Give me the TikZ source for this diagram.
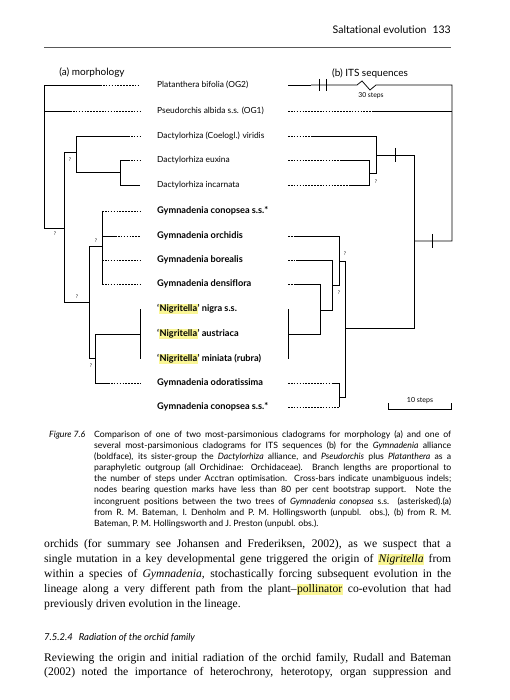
\documentclass[tikz,border=0pt]{standalone}
\usepackage{fontspec}
\setmainfont{Liberation Serif}
\newfontfamily\gill[Ligatures=NoCommon]{Lato}
\definecolor{hlyellow}{RGB}{250,246,150}
\newcommand{\hl}[1]{{\setlength{\fboxsep}{0.4pt}\colorbox{hlyellow}{#1}}}
\newcommand{\capfill}[1]{\makebox[357pt][s]{#1}}
\newcommand{\bodyfill}[1]{\makebox[407pt][s]{#1}}
\tikzset{
  page/.style={x=1pt,y=-1pt},
  branch/.style={line width=0.75pt},
  tipline/.style={line width=0.7pt,dash pattern=on 1.6pt off 1.3pt},
  taxon/.style={anchor=west,inner sep=0pt,font=\gill\fontsize{8.4}{9}\selectfont},
  gtaxon/.style={taxon,font=\gill\bfseries\fontsize{9.2}{10}\selectfont},
  qmark/.style={inner sep=0pt,font=\gill\fontsize{5}{5}\selectfont},
  capline/.style={anchor=base west,inner sep=0pt,font=\gill\fontsize{8.7}{9}\selectfont},
  bodyline/.style={anchor=base west,inner sep=0pt,font=\fontsize{11.6}{13}\selectfont},
}

\begin{document}
\begin{tikzpicture}[page]
    \useasboundingbox (0,0) rectangle (509,700);
    \fill[white] (0,0) rectangle (509,700);
    % running head
    \node[anchor=base east,inner sep=0pt,font=\gill\fontsize{10.5}{11}\selectfont] (head) at (451,34)
      {Saltational evolution\hspace{6pt}133};
    \draw[black!65,line width=0.9pt] (44,47) -- (451,47);
    \node[font=\gill\fontsize{10}{11}\selectfont] (morph) at (92,73) {(a) morphology};
    \node[font=\gill\fontsize{10}{11}\selectfont] (its) at (370,73) {(b) ITS sequences};
    % taxa
    \node[taxon]  (pla) at (157,85)  {Platanthera bifolia (OG2)};
    \node[taxon]  (pse) at (157,111) {Pseudorchis albida s.s. (OG1)};
    \node[taxon]  (vir) at (157,136) {Dactylorhiza (Coelogl.) viridis};
    \node[taxon]  (eux) at (157,160) {Dactylorhiza euxina};
    \node[taxon]  (inc) at (157,185) {Dactylorhiza incarnata};
    \node[gtaxon] (con) at (157,211) {Gymnadenia conopsea s.s.*};
    \node[gtaxon] (orc) at (157,236) {Gymnadenia orchidis};
    \node[gtaxon] (bor) at (157,260) {Gymnadenia borealis};
    \node[gtaxon] (den) at (157,284) {Gymnadenia densiflora};
    \node[gtaxon] (nig) at (157,309) {‘\hl{Nigritella}’ nigra s.s.};
    \node[gtaxon] (aus) at (157,334) {‘\hl{Nigritella}’ austriaca};
    \node[gtaxon] (min) at (157,359) {‘\hl{Nigritella}’ miniata (rubra)};
    \node[gtaxon] (odo) at (157,383) {Gymnadenia odoratissima};
    \node[gtaxon] (cot) at (157,407) {Gymnadenia conopsea s.s.*};
    % (a) morphology tree
    \draw[branch] (100,85) -- (44,85) -- (44,228) -- (64,228);
    \draw[branch] (44,111) -- (70,111);
    \draw[branch] (76,152) -- (64,152) -- (64,302) -- (89,302);
    \draw[branch] (128,136) -- (76,136) -- (76,172) -- (120,172);
    \draw[branch] (128,160) -- (120,160) -- (120,185) -- (140,185);
    \draw[branch] (102,246) -- (89,246) -- (89,358) -- (95,358);
    \draw[branch] (102,211) -- (102,284);
    \draw[branch] (102,236) -- (115,236);
    \draw[branch] (140,334) -- (95,334) -- (95,383) -- (108,383);
    \draw[branch] (140,309) -- (140,359);
    \draw[tipline] (100,85) -- (140,85);
    \draw[tipline] (70,111) -- (140,111);
    \draw[tipline] (128,136) -- (140,136);
    \draw[tipline] (128,160) -- (140,160);
    \draw[tipline] (102,211) -- (140,211);
    \draw[tipline] (115,236) -- (140,236);
    \draw[tipline] (102,260) -- (140,260);
    \draw[tipline] (102,284) -- (140,284);
    \draw[tipline] (108,383) -- (140,383);
    \node[qmark] at (70,160) {?};
    \node[qmark] at (55,234) {?};
    \node[qmark] at (96,241) {?};
    \node[qmark] at (77,297) {?};
    \node[qmark] at (91,366) {?};
    % (b) ITS tree
    \draw[branch] (311,85) -- (357,85) -- (362,81) -- (370,90) -- (376,85) -- (452,85)
      -- (452,241) -- (414,241);
    \draw[branch] (319,79) -- (319,91) (326,79) -- (326,91);
    \draw[branch] (432,234) -- (432,248);
    \draw[branch] (373,111) -- (452,111);
    \draw[branch] (311,136) -- (376,136) -- (376,173) -- (369,173);
    \draw[branch] (342,160) -- (369,160) -- (369,185) -- (350,185);
    \draw[branch] (376,155) -- (414,155) -- (414,328) -- (345,328);
    \draw[branch] (395,148) -- (395,162);
    \draw[branch] (339,261) -- (345,261) -- (345,397) -- (339,397);
    \draw[branch] (294,236) -- (339,236) -- (339,285) -- (332,285);
    \draw[branch] (296,260) -- (332,260) -- (332,310) -- (320,310);
    \draw[branch] (294,284) -- (320,284) -- (320,334) -- (288,334);
    \draw[branch] (288,309) -- (288,359);
    \draw[branch] (332,383) -- (339,383) -- (339,407);
    \draw[branch] (288,85) -- (311,85);
    \draw[tipline] (288,111) -- (373,111);
    \draw[tipline] (288,136) -- (311,136);
    \draw[tipline] (288,160) -- (342,160);
    \draw[tipline] (288,185) -- (350,185);
    \draw[tipline] (288,236) -- (294,236);
    \draw[tipline] (288,260) -- (296,260);
    \draw[tipline] (288,284) -- (294,284);
    \draw[tipline] (288,383) -- (332,383);
    \draw[tipline] (288,407) -- (339,407);
    \node[qmark] at (376,182) {?};
    \node[qmark] at (345,254) {?};
    \node[qmark] at (339,293) {?};
    \node[font=\gill\fontsize{6.8}{7}\selectfont] (thirty) at (371,96) {30 steps};
    % scale bar
    \draw[branch] (388,403) -- (388,409) -- (451,409) -- (451,403);
    \node[font=\gill\fontsize{7}{7}\selectfont] (ten) at (420,401) {10 steps};
    % caption
    \node[capline] (fig) at (49,437) {\itshape Figure 7.6};
    \node[capline] (c1) at (94,437) {\capfill{Comparison of one of two most-parsimonious cladograms for morphology (a) and one of}};
    \node[capline] (c2) at (94,448) {\capfill{several most-parsimonious cladograms for ITS sequences (b) for the \textit{Gymnadenia} alliance}};
    \node[capline] (c3) at (94,459) {\capfill{(boldface), its sister-group the \textit{Dactylorhiza} alliance, and \textit{Pseudorchis} plus \textit{Platanthera} as a}};
    \node[capline] (c4) at (94,470) {\capfill{paraphyletic outgroup (all Orchidinae: Orchidaceae). Branch lengths are proportional to}};
    \node[capline] (c5) at (94,481) {\capfill{the number of steps under Acctran optimisation. Cross-bars indicate unambiguous indels;}};
    \node[capline] (c6) at (94,492) {\capfill{nodes bearing question marks have less than 80 per cent bootstrap support. Note the}};
    \node[capline] (c7) at (94,504) {\capfill{incongruent positions between the two trees of \textit{Gymnadenia conopsea} s.s. (asterisked).(a)}};
    \node[capline] (c8) at (94,515) {\capfill{from R. M. Bateman, I. Denholm and P. M. Hollingsworth (unpubl. obs.), (b) from R. M.}};
    \node[capline] (c9) at (94,526) {Bateman, P. M. Hollingsworth and J. Preston (unpubl. obs.).};
    % body text
    \node[bodyline] (b1) at (44,547) {\bodyfill{orchids (for summary see Johansen and Frederiksen, 2002), as we suspect that a}};
    \node[bodyline] (b2) at (44,562) {\bodyfill{single mutation in a key developmental gene triggered the origin of \hl{\textit{Nigritella}} from}};
    \node[bodyline] (b3) at (44,577) {\bodyfill{within a species of \textit{Gymnadenia}, stochastically forcing subsequent evolution in the}};
    \node[bodyline] (b4) at (44,592) {\bodyfill{lineage along a very different path from the plant--\hl{pollinator} co-evolution that had}};
    \node[bodyline] (b5) at (44,607) {previously driven evolution in the lineage.};
    \node[anchor=base west,inner sep=0pt,font=\gill\itshape\fontsize{9.5}{11}\selectfont] (sec) at (44,640)
      {7.5.2.4\hspace{6pt}Radiation of the orchid family};
    \node[bodyline] (b6) at (44,661) {\bodyfill{Reviewing the origin and initial radiation of the orchid family, Rudall and Bateman}};
    \node[bodyline] (b7) at (44,675) {\bodyfill{(2002) noted the importance of heterochrony, heterotopy, organ suppression and}};
\end{tikzpicture}
\end{document}
